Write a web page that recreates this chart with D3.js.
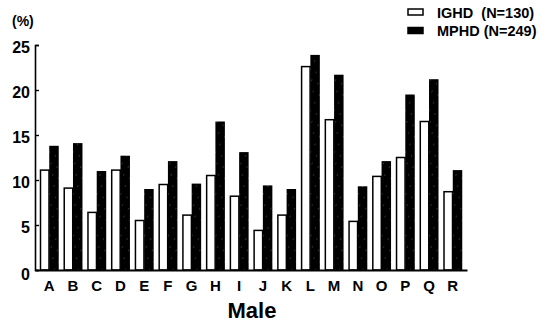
<!DOCTYPE html>
<html>
<head>
<meta charset="utf-8">
<script src="https://cdn.jsdelivr.net/npm/d3@7"></script>
<style>
  body { margin: 0; background: #fff; }
  text { font-family: "Liberation Sans", Arial, sans-serif; font-weight: bold; fill: #000; white-space: pre; }
</style>
</head>
<body>
<svg id="chart"></svg>
<script>
// data (percent of patients)
const categories = ["A","B","C","D","E","F","G","H","I","J","K","L","M","N","O","P","Q","R"];
const ighd = [11.1, 9.1, 6.4, 11.1, 5.5, 9.5, 6.1, 10.5, 8.2, 4.4, 6.1, 22.6, 16.7, 5.4, 10.4, 12.5, 16.5, 8.7];
const mphd = [13.8, 14.1, 11.0, 12.7, 9.0, 12.1, 9.6, 16.5, 13.1, 9.4, 9.0, 23.9, 21.7, 9.3, 12.1, 19.5, 21.2, 11.1];
const series = ["IGHD", "MPHD"];
const legendLabels = ["IGHD  (N=130)", "MPHD (N=249)"];
const yTicks = [0, 5, 10, 15, 20, 25];

const width = 545;
const height = 327;

const svg = d3.select('#chart')
	.attr('width', width)
	.attr('height', height);

// hatch for the dark bars (scan shows faint diagonal streaks)
const defs = svg.append('defs');
const pat = defs.append('pattern')
	.attr('id', 'hatch')
	.attr('patternUnits', 'userSpaceOnUse')
	.attr('width', 7)
	.attr('height', 9)
	.attr('patternTransform', 'rotate(30)');
pat.append('rect').attr('width', 7).attr('height', 9).attr('fill', '#000');
pat.append('line')
	.attr('x1', 0).attr('y1', 0).attr('x2', 0).attr('y2', 9)
	.attr('stroke', '#999')
	.attr('stroke-width', 0.6)
	.attr('stroke-dasharray', '2,7');

const x = d3.scaleBand()
	.domain(categories)
	.range([35, 467])
	.paddingInner(0.2)
	.paddingOuter(0.2);

const xSub = d3.scaleBand()
	.domain(series)
	.range([0, x.bandwidth()]);

const y = d3.scaleLinear()
	.domain([0, 25])
	.range([270, 45]);

const rows = categories.map((c, i) => ({ cat: c, IGHD: ighd[i], MPHD: mphd[i] }));

const groups = svg.append('g')
	.selectAll('g')
	.data(rows)
	.join('g')
	.attr('transform', d => `translate(${x(d.cat)},0)`);

groups.append('rect')
	.attr('x', xSub('IGHD') + 0.75)
	.attr('y', d => y(d.IGHD))
	.attr('width', xSub.bandwidth() - 1)
	.attr('height', d => y(0) - y(d.IGHD))
	.attr('fill', '#fff')
	.attr('stroke', '#000')
	.attr('stroke-width', 1.5);

groups.append('rect')
	.attr('x', xSub('MPHD'))
	.attr('y', d => y(d.MPHD))
	.attr('width', xSub.bandwidth())
	.attr('height', d => y(0) - y(d.MPHD))
	.attr('fill', 'url(#hatch)');

// y axis, ticks pointing inward
const yAxis = d3.axisRight(y)
	.tickValues(yTicks)
	.tickSize(4)
	.tickFormat('');

const yg = svg.append('g')
	.attr('transform', 'translate(35,0)')
	.call(yAxis);
yg.select('.domain').attr('stroke-width', 1.6);
yg.selectAll('.tick line').attr('stroke-width', 1.4);

svg.append('g')
	.selectAll('text')
	.data(yTicks)
	.join('text')
	.attr('x', 30)
	.attr('y', d => y(d) + (d === 0 ? 10 : 8))
	.attr('text-anchor', 'end')
	.attr('font-size', 16)
	.text(d => d);

// x axis baseline
const xAxis = d3.axisBottom(x).tickSize(0).tickPadding(10);
const xg = svg.append('g')
	.attr('transform', `translate(0,${y(0)})`)
	.call(xAxis);
xg.select('.domain').attr('stroke-width', 2);
xg.selectAll('.tick text')
	.attr('font-size', 15)
	.attr('dy', '0.75em');

svg.append('text')
	.attr('x', 252)
	.attr('y', 318)
	.attr('text-anchor', 'middle')
	.attr('font-size', 22)
	.text('Male');

svg.append('text')
	.attr('x', 12)
	.attr('y', 26)
	.attr('font-size', 14)
	.text('(%)');

// legend
const legend = svg.append('g')
	.selectAll('g')
	.data(series)
	.join('g')
	.attr('transform', (d, i) => `translate(408,${9 + i * 18.5})`);

legend.append('rect')
	.attr('width', 15)
	.attr('height', 6)
	.attr('fill', d => d === 'IGHD' ? '#fff' : '#000')
	.attr('stroke', '#000')
	.attr('stroke-width', 1.5);

legend.append('text')
	.attr('x', 29)
	.attr('y', 8.5)
	.attr('font-size', 14.5)
	.text((d, i) => legendLabels[i]);
</script>
</body>
</html>
